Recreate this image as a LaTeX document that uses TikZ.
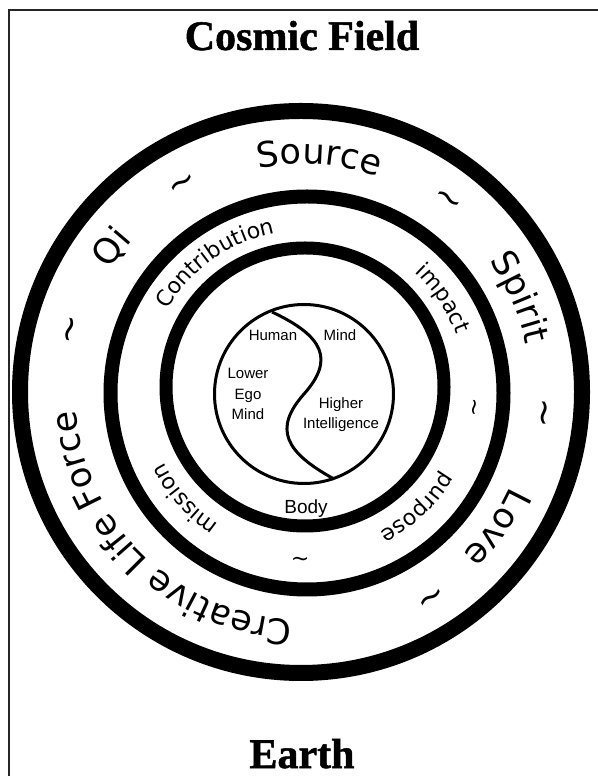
\documentclass[tikz,border=0pt]{standalone}
\usepackage{fontspec}
\usetikzlibrary{decorations.text}
\newfontfamily\dvs{DejaVu Sans}
\newfontfamily\lsans{Liberation Sans}
\newfontfamily\titlef[FakeBold=1.2]{Liberation Serif Bold}
\def\outerf{\dvs\fontsize{35}{40}\selectfont}
\def\innerf{\dvs\fontsize{22}{26}\selectfont}
\def\yyf{\lsans\fontsize{15}{20.5}\selectfont}
\def\bigtitle{\titlef\fontsize{42}{46}\selectfont}
\newcommand{\ringtext}[5]{%
  \path[decorate, decoration={text along path, text align=center, text={|#4|#5}}]
    ([shift={({#3+70}:#2pt)}]#1) arc[start angle={#3+70}, end angle={#3-70}, radius=#2pt];}
\tikzset{
  ring/.style={draw=black},
  tildeo/.style={font=\outerf, inner sep=0pt},
  tildei/.style={font=\innerf, inner sep=0pt},
  yytext/.style={font=\yyf, align=center, inner sep=0pt},
  titletext/.style={font=\bigtitle, anchor=base, inner sep=0pt},
}
\begin{document}
\begin{tikzpicture}[x=1pt,y=1pt]
\useasboundingbox (0,0) rectangle (597,776);
\fill[white] (0,0) rectangle (597,776);
% border
\draw[line width=1.5pt, black!85] (9,-5) -- (9,766) -- (602,766);
% centres
\coordinate (co) at (301,384);
\coordinate (cs) at (307,383);
\coordinate (ct) at (305,389);
\coordinate (cy) at (304,382);
\coordinate (to) at (303,384);
\coordinate (ti) at (306,386);
% rings
\draw[ring, line width=16pt] (co) circle[radius=281pt];
\draw[ring, line width=14pt] (cs) circle[radius=196.5pt];
\draw[ring, line width=13pt] (ct) circle[radius=139pt];
\draw[ring, line width=3pt] (cy) circle[radius=89.5pt];
% yin-yang S curve
\draw[line width=3pt] (272,464) .. controls (323,440) and (335,417) .. (cy)
  .. controls (273,347) and (285,324) .. (334,297);
% titles
\node[titletext] (title) at (302,726) {Cosmic Field};
\node[titletext] (earth) at (302,8) {Earth};
% outer band texts
\ringtext{to}{228}{86}{\outerf}{Source}
\ringtext{to}{228}{23.5}{\outerf}{Spirit}
\ringtext{to}{228}{-35}{\outerf}{Love}
\ringtext{to}{228}{226}{\outerf}{Creative Life Force}
\ringtext{to}{228}{143}{\outerf}{Qi}
% outer tildes
\node[tildeo, rotate=30] (o1) at ([shift={(120:238pt)}]to) {\textasciitilde};
\node[tildeo, rotate=-37] (o2) at ([shift={(53:238pt)}]to) {\textasciitilde};
\node[tildeo, rotate=-95] (o3) at ([shift={(-5:238pt)}]to) {\textasciitilde};
\node[tildeo, rotate=-148] (o4) at ([shift={(-58:238pt)}]to) {\textasciitilde};
\node[tildeo, rotate=75] (o5) at ([shift={(165:238pt)}]to) {\textasciitilde};
% inner band texts
\ringtext{ti}{160}{125.5}{\innerf}{Contribution}
\ringtext{ti}{160}{33.7}{\innerf}{impact}
\ringtext{ti}{160}{-46.6}{\innerf}{purpose}
\ringtext{ti}{160}{222}{\innerf}{mission}
% inner tildes
\node[tildei, rotate=-96] (i1) at ([shift={(-6:167pt)}]ti) {\textasciitilde};
\node[tildei, rotate=-182] (i2) at ([shift={(-92:167pt)}]ti) {\textasciitilde};
% yin-yang texts
\node[yytext] (human) at (273,441) {Human};
\node[yytext] (mind) at (340,441) {Mind};
\node[yytext] (lower) at (248,382) {Lower\\Ego\\Mind};
\node[yytext] (higher) at (341,361.5) {Higher\\Intelligence};
\node[font=\lsans\fontsize{19}{22}\selectfont, inner sep=0pt] (body) at (306,267) {Body};
\end{tikzpicture}
\end{document}
